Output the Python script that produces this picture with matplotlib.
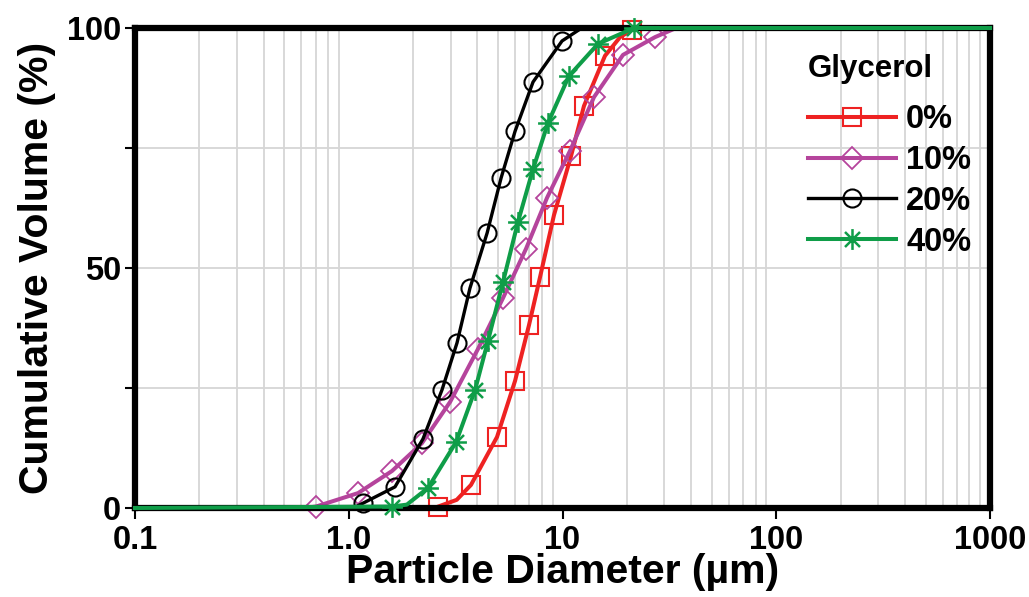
import matplotlib
matplotlib.use("Agg")
import matplotlib.pyplot as plt
from matplotlib.path import Path
from matplotlib.ticker import FixedLocator, NullFormatter, LogLocator

plt.rcParams['font.family'] = ['Liberation Sans', 'DejaVu Sans']
plt.rcParams['font.weight'] = 'bold'
plt.rcParams['axes.labelweight'] = 'bold'

# ---- data ----
red_x = [2.62, 3.2, 3.73, 4.94, 6.0, 6.97, 7.85, 9.12, 10.96, 12.6, 15.8, 18.6, 21.1, 24.0]
red_y = [0.3, 1.7, 4.8, 14.8, 26.5, 38.1, 48.1, 61.0, 73.3, 83.75, 94.2, 98.1, 99.6, 100]
red_m = [0, 2, 3, 4, 5, 6, 7, 8, 9, 10, 12]

mag_x = [0.62, 0.703, 1.105, 1.593, 2.20, 2.98, 4.02, 5.27, 6.75, 8.46, 10.84, 14.04, 19.19, 27.1, 34.0]
mag_y = [0.0, 0.3, 3.1, 7.7, 13.5, 22.1, 33.1, 43.75, 54.0, 64.6, 74.4, 85.6, 94.4, 98.1, 100]
mag_m = list(range(1, 14))

blk_x = [1.05, 1.166, 1.646, 2.225, 2.73, 3.21, 3.69, 4.44, 5.16, 6.0, 7.28, 9.95, 12.3]
blk_y = [0.0, 1.0, 4.4, 14.4, 24.6, 34.4, 45.8, 57.3, 68.75, 78.5, 88.75, 97.3, 100]
blk_m = list(range(1, 12))

grn_x = [0.1, 1.593, 1.87, 2.35, 3.18, 3.90, 4.48, 5.27, 6.19, 7.28, 8.55, 10.72, 14.66, 21.6, 1000]
grn_y = [0.0, 0.3, 0.7, 4.2, 13.75, 24.6, 34.8, 47.1, 59.6, 70.6, 80.2, 90.0, 96.7, 100, 100]
grn_m = [1, 3, 4, 5, 6, 7, 8, 9, 10, 11, 12, 13]

labels = ['0%', '10%', '20%', '40%']
legend_title = 'Glycerol'
x_ticks = [0.1, 1, 10, 100, 1000]
x_ticklabels = ['0.1', '1.0', '10', '100', '1000']
y_ticks = [0, 50, 100]

# asterisk marker (8 arms)
star = Path([(0, -1), (0, 1), (-1, 0), (1, 0), (-0.72, -0.72), (0.72, 0.72), (-0.72, 0.72), (0.72, -0.72)],
            [Path.MOVETO, Path.LINETO] * 4)

fig = plt.figure(figsize=(10.29, 5.97), dpi=100)
ax = fig.add_axes([0.1312, 0.1491, 0.9621 - 0.1312, 0.9531 - 0.1491])

ax.plot(red_x, red_y, color='#ee2222', lw=2.9, marker='s', ms=12.5, mfc='none', mec='#ee2222',
        mew=1.5, markevery=red_m, clip_on=False, zorder=2.2, label=labels[0])
ax.plot(mag_x, mag_y, color='#b5449c', lw=2.9, marker='D', ms=11.5, mfc='none', mec='#b5449c',
        mew=1.3, markevery=mag_m, clip_on=False, zorder=2.3, label=labels[1])
ax.plot(blk_x, blk_y, color='black', lw=2.4, marker='o', ms=13, mfc='none', mec='black',
        mew=1.5, markevery=blk_m, clip_on=False, zorder=2.4, label=labels[2])
ax.plot(grn_x, grn_y, color='#0f9d48', lw=2.9, marker=star, ms=15, mfc='none', mec='#0f9d48',
        mew=1.8, markevery=grn_m, clip_on=False, zorder=3.5, label=labels[3])

ax.set_xscale('log')
ax.set_xlim(0.1, 1000)
ax.set_ylim(0, 100)
ax.set_xticks(x_ticks)
ax.set_xticklabels(x_ticklabels)
ax.xaxis.set_minor_locator(LogLocator(base=10, subs=range(2, 10)))
ax.xaxis.set_minor_formatter(NullFormatter())
ax.set_yticks(y_ticks)
ax.yaxis.set_minor_locator(FixedLocator([25, 75]))

ax.grid(False)
ax.grid(True, which='minor', axis='x', color='#d6d6d6', lw=1.3)
for yv in [25, 50, 75]:
    ax.axhline(yv, color='#d6d6d6', lw=1.3, zorder=0.5)

for s in ax.spines.values():
    s.set_linewidth(4.5)
    s.set_color('black')

ax.tick_params(axis='x', which='major', direction='out', length=8, width=1.5, labelsize=23.5, pad=4)
ax.tick_params(axis='x', which='minor', length=0)
ax.tick_params(axis='y', which='both', direction='out', length=7, width=1.5, labelsize=23.5, pad=3)

ax.set_xlabel('Particle Diameter (µm)', fontsize=29.5, labelpad=-2)
ax.set_ylabel('Cumulative Volume (%)', fontsize=29.5, labelpad=8)

fig.text(870 / 1029, 1 - 77 / 597, legend_title, fontsize=22.5, ha='center', va='baseline')
leg = ax.legend(loc='upper left', bbox_to_anchor=(792 / 1029, 1 - 88 / 597), bbox_transform=fig.transFigure,
                frameon=False, fontsize=23.5, handlelength=2.7, handletextpad=0.3,
                labelspacing=0.3, borderpad=0)

fig.savefig('out.png', dpi=100)
